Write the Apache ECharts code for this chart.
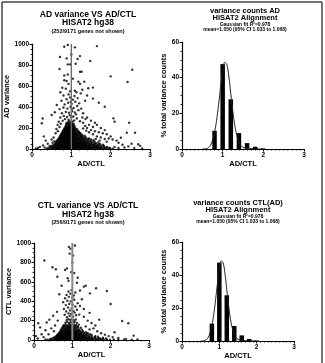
<!DOCTYPE html>
<html><head><meta charset="utf-8">
<script src="https://cdn.jsdelivr.net/npm/echarts@6/dist/echarts.min.js"></script>
<style>html,body{margin:0;padding:0;background:#fff}#c{width:325px;height:363px}</style>
</head><body><div id="c"></div>
<script>
// ---------- DATA ----------
const adPoints = [
[0.38,6],[0.44,3],[0.49,8],[0.53,4],[0.57,9],[0.61,2],[0.64,7],[0.68,4],[0.71,10],[0.74,3],[0.78,6],[0.81,2],[0.85,8],[0.88,4],[0.92,11],[0.95,3],[0.99,7],[1.02,2],[1.06,9],[1.09,5],[1.13,3],[1.16,8],[1.2,4],[1.23,10],[1.27,3],[1.31,7],[1.35,2],[1.39,9],[1.43,4],[1.47,6],[1.51,2],[1.56,8],[1.6,4],[1.65,7],[1.7,3],[1.75,9],[1.81,4],[1.87,6],[1.93,3],[1.99,8],[2.06,4],
[0.42,13],[0.5,11],[0.55,14],[0.59,12],[0.62,15],[0.66,11],[0.69,14],[0.72,12],[0.76,16],[0.79,11],[0.83,14],[0.86,12],[0.9,16],[0.93,11],[0.97,14],[1.0,13],[1.04,16],[1.07,11],[1.11,14],[1.14,12],[1.18,16],[1.21,11],[1.25,14],[1.29,12],[1.33,16],[1.37,11],[1.41,14],[1.45,12],[1.49,15],[1.53,11],[1.58,14],[1.63,12],[1.68,15],[1.73,11],[1.78,14],[1.84,12],[1.9,15],[1.96,12],
[0.47,20],[0.52,24],[0.56,18],[0.6,26],[0.63,21],[0.67,17],[0.7,25],[0.73,19],[0.77,23],[0.8,28],[0.83,18],[0.87,24],[0.9,20],[0.94,27],[0.97,17],[1.01,22],[1.04,26],[1.08,19],[1.11,24],[1.15,21],[1.18,27],[1.22,18],[1.26,23],[1.3,26],[1.34,19],[1.38,24],[1.42,20],[1.46,27],[1.5,18],[1.55,22],[1.6,25],[1.65,19],[1.7,23],[1.76,18],[1.83,24],[1.9,20],
[0.51,31],[0.58,33],[0.61,30],[0.65,34],[0.68,31],[0.72,33],[0.75,30],[0.78,34],[0.82,32],[0.85,30],[0.88,34],[0.92,31],[0.95,33],[0.98,30],[1.02,34],[1.05,31],[1.09,33],[1.12,30],[1.16,34],[1.19,31],[1.23,33],[1.27,30],[1.31,34],[1.35,31],[1.39,33],[1.44,30],[1.48,34],[1.53,31],[1.58,33],[1.63,30],[1.69,34],[1.75,31],[1.82,33],
[0.55,38],[0.59,43],[0.63,36],[0.66,44],[0.7,39],[0.73,46],[0.76,37],[0.8,42],[0.83,47],[0.86,38],[0.9,44],[0.93,36],[0.96,45],[1.0,40],[1.03,47],[1.07,37],[1.1,43],[1.14,39],[1.17,46],[1.21,38],[1.24,44],[1.28,40],[1.32,46],[1.36,37],[1.4,43],[1.45,39],[1.5,45],[1.55,37],[1.6,42],[1.66,38],[1.72,44],[1.8,40],
[0.58,51],[0.62,53],[0.65,50],[0.69,54],[0.72,51],[0.75,53],[0.79,50],[0.82,54],[0.85,51],[0.89,53],[0.92,50],[0.95,54],[0.99,51],[1.02,53],[1.06,50],[1.09,54],[1.13,51],[1.16,53],[1.2,50],[1.23,54],[1.27,51],[1.31,53],[1.35,50],[1.4,54],[1.45,51],[1.5,53],[1.56,50],[1.63,53],[1.72,51],
[0.6,58],[0.64,63],[0.68,56],[0.71,65],[0.75,59],[0.78,66],[0.82,57],[0.85,62],[0.88,68],[0.92,58],[0.95,64],[0.98,56],[1.02,66],[1.05,60],[1.09,67],[1.12,57],[1.16,63],[1.2,59],[1.24,66],[1.28,58],[1.32,64],[1.37,60],[1.42,66],[1.47,57],[1.53,63],[1.6,59],[1.68,62],
[0.62,71],[0.66,73],[0.7,70],[0.73,74],[0.77,71],[0.8,73],[0.84,70],[0.87,74],[0.9,71],[0.94,73],[0.97,70],[1.0,74],[1.04,71],[1.07,73],[1.11,70],[1.15,74],[1.19,71],[1.23,73],[1.27,70],[1.32,74],[1.37,71],[1.43,73],[1.5,70],[1.58,73],
[0.64,79],[0.68,84],[0.72,77],[0.75,86],[0.79,80],[0.82,88],[0.85,76],[0.89,83],[0.92,89],[0.95,78],[0.99,85],[1.02,80],[1.06,88],[1.09,77],[1.13,84],[1.17,81],[1.21,87],[1.25,78],[1.3,84],[1.35,80],[1.41,86],[1.48,79],[1.56,83],
[0.66,91],[0.7,93],[0.74,90],[0.77,94],[0.81,91],[0.84,93],[0.88,90],[0.91,94],[0.94,91],[0.98,93],[1.01,90],[1.05,94],[1.08,91],[1.12,93],[1.16,90],[1.2,94],[1.25,91],[1.3,93],[1.36,90],[1.43,93],[1.5,91],
[0.68,98],[0.72,104],[0.76,97],[0.79,106],[0.83,100],[0.86,108],[0.89,96],[0.93,103],[0.96,109],[0.99,98],[1.03,105],[1.06,99],[1.1,107],[1.14,97],[1.18,104],[1.22,100],[1.27,106],[1.32,98],[1.38,103],[1.45,100],
[0.7,111],[0.74,113],[0.77,110],[0.81,114],[0.84,111],[0.88,113],[0.91,110],[0.94,114],[0.98,111],[1.01,113],[1.05,110],[1.08,114],[1.12,111],[1.16,113],[1.2,110],[1.25,114],[1.3,111],[1.36,113],
[0.71,119],[0.75,124],[0.79,117],[0.82,126],[0.86,120],[0.89,128],[0.92,116],[0.96,123],[0.99,129],[1.02,118],[1.06,125],[1.1,120],[1.14,127],[1.18,118],[1.23,124],[1.28,120],[1.34,126],
[0.73,131],[0.77,133],[0.8,130],[0.84,134],[0.87,131],[0.91,133],[0.94,130],[0.97,134],[1.01,131],[1.04,133],[1.08,130],[1.12,134],[1.17,131],[1.22,133],[1.28,130],
[0.74,139],[0.78,145],[0.82,137],[0.85,146],[0.89,140],[0.92,148],[0.96,136],[0.99,143],[1.03,149],[1.07,138],[1.11,145],[1.15,140],[1.2,147],[1.26,139],
[0.76,151],[0.8,153],[0.83,150],[0.87,154],[0.9,151],[0.94,153],[0.97,150],[1.01,154],[1.04,151],[1.08,153],[1.12,150],[1.17,154],[1.23,151],
[0.77,159],[0.81,165],[0.85,157],[0.88,166],[0.92,160],[0.95,168],[0.99,156],[1.02,163],[1.06,169],[1.1,158],[1.15,165],[1.2,160],
[0.79,171],[0.83,173],[0.86,170],[0.9,174],[0.93,171],[0.97,173],[1.0,170],[1.04,174],[1.08,171],[1.12,173],[1.18,170],
[0.8,179],[0.84,186],[0.88,177],[0.91,188],[0.95,180],[0.98,189],[1.02,176],[1.06,184],[1.1,179],[1.15,187],
[0.82,191],[0.86,193],[0.89,190],[0.93,194],[0.96,191],[1.0,193],[1.03,190],[1.07,194],[1.12,191],
[0.83,199],[0.87,207],[0.91,197],[0.94,208],[0.98,200],[1.01,209],[1.05,196],[1.09,204],
[0.85,211],[0.89,214],[0.93,212],[0.96,215],[1.0,211],[1.03,214],[1.07,212],
[0.86,222],[0.9,230],[0.94,219],[0.97,228],[1.01,224],[1.04,231],[1.08,220],
[0.87,236],[0.91,240],[0.95,237],[0.99,241],[1.02,236],[1.06,239],
[0.88,248],[0.92,256],[0.96,245],[1.0,253],[1.03,259],
[0.78,270],[0.84,285],[0.93,278],[1.07,272],[1.14,290],[1.22,265],[0.72,300],[0.81,315],[0.89,305],[0.96,322],[1.05,310],[1.12,330],[1.28,300],[1.36,285],[0.76,340],[0.86,352],[0.94,345],[1.02,360],[1.09,348],[1.18,370],[1.3,340],[0.7,380],[0.8,395],[0.9,385],[0.98,402],[1.06,390],[1.15,410],[1.25,385],[0.83,425],[0.92,440],[1.01,430],[1.1,450],[1.2,435],[0.75,460],[0.88,475],[0.97,490],[1.04,470],[1.16,485],[1.35,460],[0.8,510],[0.93,520],[1.08,505],[1.24,530],[0.72,540],[1.4,510],[1.55,480],[1.7,440],[1.85,403],[0.63,419],[0.58,350],[0.5,324],[0.95,265],[1.0,300],[1.01,380],[0.99,450],
[1.4,300],[1.5,270],[1.6,250],[1.45,230],[1.55,210],[1.65,230],[1.75,200],[1.85,180],[1.3,250],[1.35,220],[1.4,200],[1.5,180],[1.6,170],[1.7,160],[1.8,150],[1.9,140],[2.0,120],[2.07,292],[2.1,260],[2.47,250],[2.41,155],[2.62,155],[2.26,107],[2.53,50],[2.7,45],[2.75,30],[2.3,40],[2.45,25],[2.15,80],[2.2,60],[2.05,90],[1.95,100],[1.9,70],[2.35,15],[2.6,10],[2.8,5],[2.1,20],[2.2,10],[1.45,160],[1.55,140],[1.65,120],[1.75,110],[1.85,95],[1.62,95],[1.72,80],[1.38,175],[1.3,195],
[0.25,245],[0.27,290],[0.3,120],[0.35,80],[0.4,50],[0.45,30],[0.2,20],[0.15,10],[0.28,35],[0.5,90],[0.55,110],[0.6,150],[0.62,190],[0.65,230],[0.68,260],[0.52,60],[0.57,75],[0.66,170],[0.7,210],[0.73,240],[0.1,5],[0.32,15],
[0.82,974],[0.91,990],[1.09,968],[1.65,980],[0.71,876],[0.88,863],[1.0,900],[1.22,885],[1.16,857],[1.48,838],[0.7,762],[0.91,806],[0.97,806],[1.11,812],[1.22,736],[1.26,736],[2.55,755],[2.0,692],[2.43,638],[0.82,700],[0.91,710],[0.88,648],[0.82,655],[0.93,620],[1.04,670],[1.18,641],[1.33,641],[1.22,620],[1.43,578],[1.55,585],[0.77,584],[0.86,575],[0.97,550],[1.09,555],[1.28,565],[1.13,540]
];
const ctlPoints = [
[0.3,5],[0.36,2],[0.42,7],[0.47,3],[0.52,8],[0.56,2],[0.6,6],[0.63,3],[0.67,9],[0.7,4],[0.73,7],[0.77,2],[0.8,8],[0.83,4],[0.87,10],[0.9,3],[0.94,6],[0.97,2],[1.0,8],[1.04,4],[1.07,9],[1.11,3],[1.14,7],[1.18,2],[1.22,8],[1.26,4],[1.3,6],[1.35,3],[1.4,9],[1.45,4],[1.5,7],[1.56,3],[1.62,6],[1.68,2],[1.75,8],[1.82,4],[1.9,6],[1.98,3],[2.08,5],[2.2,3],[2.35,6],[2.55,3],[2.7,5],
[0.45,13],[0.53,11],[0.58,14],[0.62,12],[0.65,15],[0.69,11],[0.72,14],[0.75,12],[0.79,16],[0.82,11],[0.85,14],[0.89,12],[0.92,16],[0.96,11],[0.99,14],[1.02,12],[1.06,16],[1.09,11],[1.13,14],[1.16,12],[1.2,16],[1.24,11],[1.28,14],[1.33,12],[1.38,16],[1.43,11],[1.48,14],[1.54,12],[1.6,15],[1.66,11],[1.73,14],[1.8,12],[1.88,15],
[0.5,22],[0.55,18],[0.59,26],[0.63,20],[0.66,25],[0.7,17],[0.73,23],[0.77,28],[0.8,19],[0.84,24],[0.87,20],[0.91,27],[0.94,18],[0.98,23],[1.01,26],[1.05,19],[1.08,24],[1.12,21],[1.16,27],[1.2,18],[1.24,23],[1.29,20],[1.34,26],[1.39,19],[1.45,24],[1.52,20],[1.6,25],[1.7,19],[1.8,23],
[0.54,31],[0.6,33],[0.64,30],[0.68,34],[0.71,31],[0.75,33],[0.78,30],[0.82,34],[0.85,31],[0.89,33],[0.92,30],[0.96,34],[0.99,31],[1.03,33],[1.06,30],[1.1,34],[1.14,31],[1.18,33],[1.22,30],[1.27,34],[1.32,31],[1.37,33],[1.43,30],[1.5,34],[1.58,31],[1.67,33],
[0.58,40],[0.62,45],[0.66,38],[0.7,47],[0.73,41],[0.77,36],[0.8,44],[0.84,39],[0.87,48],[0.9,37],[0.94,43],[0.97,40],[1.01,46],[1.04,38],[1.08,44],[1.12,41],[1.16,47],[1.2,39],[1.25,44],[1.3,40],[1.36,46],[1.43,38],[1.5,43],[1.6,40],
[0.6,51],[0.64,53],[0.68,50],[0.72,54],[0.75,51],[0.79,53],[0.82,50],[0.86,54],[0.89,51],[0.92,53],[0.96,50],[0.99,54],[1.03,51],[1.06,53],[1.1,50],[1.14,54],[1.18,51],[1.23,53],[1.28,50],[1.34,54],[1.41,51],[1.5,53],
[0.63,60],[0.67,66],[0.71,58],[0.75,65],[0.78,61],[0.82,68],[0.85,57],[0.89,63],[0.92,59],[0.96,67],[0.99,62],[1.03,57],[1.06,65],[1.1,60],[1.14,66],[1.19,58],[1.24,64],[1.3,61],[1.38,66],[1.46,59],
[0.65,71],[0.69,73],[0.73,70],[0.77,74],[0.8,71],[0.84,73],[0.87,70],[0.91,74],[0.94,71],[0.98,73],[1.01,70],[1.05,74],[1.09,71],[1.13,73],[1.18,70],[1.24,74],[1.31,71],[1.4,73],
[0.67,80],[0.71,86],[0.75,78],[0.79,85],[0.82,81],[0.86,88],[0.89,77],[0.93,84],[0.96,80],[1.0,87],[1.03,79],[1.07,85],[1.11,82],[1.16,88],[1.21,78],[1.27,84],[1.35,80],
[0.69,91],[0.73,94],[0.77,92],[0.81,95],[0.84,91],[0.88,94],[0.91,92],[0.95,95],[0.98,91],[1.02,94],[1.05,92],[1.09,95],[1.14,91],[1.2,94],[1.28,92],
[0.7,102],[0.75,108],[0.79,99],[0.83,106],[0.86,101],[0.9,110],[0.93,98],[0.97,105],[1.0,100],[1.04,108],[1.08,97],[1.13,104],[1.18,101],[1.25,107],
[0.72,116],[0.77,119],[0.81,115],[0.85,120],[0.89,117],[0.93,119],[0.97,115],[1.01,120],[1.05,117],[1.1,119],[1.16,116],
[0.74,128],[0.79,134],[0.84,126],[0.88,133],[0.92,129],[0.96,136],[1.0,125],[1.04,132],[1.09,128],[1.15,134],[1.22,127],
[0.76,141],[0.81,144],[0.86,140],[0.9,145],[0.94,142],[0.98,144],[1.02,140],[1.07,145],[1.13,142],
[0.78,152],[0.83,158],[0.88,150],[0.92,160],[0.96,154],[1.0,149],[1.05,157],[1.1,152],[1.17,159],
[0.82,178],[0.87,185],[0.92,176],[0.96,183],[1.01,179],[1.06,186],[1.12,177],
[0.85,205],[0.9,214],[0.95,207],[0.99,216],[1.04,204],[1.09,211],
[0.86,235],[0.93,248],[1.02,240],[1.1,255],[0.8,260],[0.9,275],[0.97,268],[1.06,282],[1.18,262],[0.84,295],[0.94,305],[1.03,298],[1.12,312],[0.78,320],[0.89,335],[0.99,328],[1.08,345],[0.83,360],[0.92,372],[1.01,365],[1.14,380],[0.76,390],[0.87,405],[0.96,398],[1.05,415],[0.81,430],[0.91,445],[1.0,438],[0.85,465],[0.95,478],[1.04,460],[0.66,471],[0.9,500],[0.98,515],[1.08,490],[0.61,652],[0.81,722],[0.86,738],[0.88,636],[1.14,642],[1.62,533],[1.9,505],[2.0,371],[1.46,481],[1.3,550],[1.35,560],[2.3,196],[2.46,172],[0.11,172],[0.16,130],[0.33,180],[0.62,200],[0.27,820],[0.48,750],[0.57,730],[0.91,960],[0.95,940],[1.07,975],[0.93,890],[1.02,870],[1.0,800],[0.97,700],[1.05,690],[0.9,610],[1.12,590],[1.2,510],[0.72,560],[0.6,290],[0.5,250],[0.4,210],[0.45,120],[0.3,100],[0.2,60],[0.25,30],[0.1,15],[0.05,40],[0.38,60],[0.55,150],[0.52,90],[1.3,240],[1.4,200],[1.5,175],[1.6,150],[1.7,210],[1.55,120],[1.65,90],[1.75,70],[1.85,55],[1.95,40],[2.05,30],[2.1,80],[2.2,20],[2.4,10],[2.6,45],[1.3,320],[1.45,280],[1.25,420],[1.2,350],[1.35,140],[1.45,110]
];
const binCenters = [0.8, 1.0, 1.2, 1.4, 1.6, 1.8, 2.0];
const adHistPct  = [10.2, 47.6, 27.9, 8.9, 3.3, 1.3, 0.3];
const ctlHistPct = [10.5, 47.5, 27.7, 9.1, 3.4, 1.2, 0.3];
const fitX    = [0.5, 0.55, 0.6, 0.65, 0.7, 0.75, 0.8, 0.85, 0.9, 0.95, 1.0, 1.05, 1.1, 1.15, 1.2, 1.25, 1.3, 1.35, 1.4, 1.45, 1.5, 1.6, 1.8, 2.0];
const adFitY  = [0, 0.05, 0.2, 0.8, 2, 5, 9.5, 16, 25, 35, 43.5, 48.5, 47.5, 41, 31, 21, 13, 7.5, 4, 2, 1, 0.4, 0.1, 0];
const ctlFitY = [0, 0.05, 0.2, 0.8, 2, 5, 9.5, 16, 25, 35, 43.5, 48.5, 47.5, 41, 31, 21, 13, 7.5, 4, 2, 1, 0.4, 0.1, 0];
const refLine = [[1, 0], [1, 1000]];

// ---------- CHART ----------
const FONT = '"Liberation Sans", Arial, sans-serif';
const zip = (xs, ys) => xs.map((x, i) => [x, ys[i]]);
function xAx(gi, minorSplit) {
  return {
    type: 'value', gridIndex: gi, min: 0, max: 3, interval: 1,
    name: 'AD/CTL', nameLocation: 'middle', nameGap: gi >= 2 ? 10 : 9,
    nameTextStyle: { fontFamily: FONT, fontWeight: 'bold', fontSize: 7.5, color: '#000' },
    axisLine: { lineStyle: { color: '#000', width: 1.2 } },
    axisTick: { show: true, length: 2.5, lineStyle: { color: '#000', width: 1 } },
    minorTick: { show: true, splitNumber: minorSplit, length: 1.5, lineStyle: { color: '#000', width: 0.8 } },
    splitLine: { show: false },
    axisLabel: { fontFamily: FONT, fontWeight: 'bold', fontSize: 6.5, color: '#000', margin: 3, formatter: v => String(v) }
  };
}
function yAx(gi, name, max, interval, gap) {
  return {
    type: 'value', gridIndex: gi, min: 0, max: max, interval: interval,
    name: name, nameLocation: 'middle', nameGap: gap, nameRotate: 90,
    nameTextStyle: { fontFamily: FONT, fontWeight: 'bold', fontSize: 7.5, color: '#000' },
    axisLine: { show: true, lineStyle: { color: '#000', width: 1.2 } },
    axisTick: { show: true, length: 2.5, lineStyle: { color: '#000', width: 1 } },
    minorTick: { show: true, splitNumber: 4, length: 1.5, lineStyle: { color: '#000', width: 0.8 } },
    splitLine: { show: false },
    axisLabel: { fontFamily: FONT, fontWeight: 'bold', fontSize: 6.5, color: '#000', margin: 3, formatter: v => String(v) }
  };
}
function txt(x, y, s, size, bold) {
  return { type: 'text', x: x, y: y, silent: true,
    style: { text: s, fill: '#000', font: (bold ? 'bold ' : '') + size + 'px ' + FONT, textAlign: 'center', textVerticalAlign: 'middle' } };
}
const chart = echarts.init(document.getElementById('c'), null, { renderer: 'canvas' });
chart.setOption({
  animation: false,
  backgroundColor: '#fff',
  grid: [
    { left: 32, top: 44, width: 118, height: 105 },
    { left: 182, top: 42, width: 122, height: 107 },
    { left: 34, top: 243, width: 115, height: 97 },
    { left: 182, top: 242, width: 112, height: 99 }
  ],
  xAxis: [xAx(0, 5), xAx(1, 10), xAx(2, 5), xAx(3, 10)],
  yAxis: [
    yAx(0, 'AD variance', 1000, 200, 16),
    yAx(1, '% total variance counts', 60, 20, 10),
    yAx(2, 'CTL variance', 1000, 200, 17),
    yAx(3, '% total variance counts', 60, 20, 10)
  ],
  series: [
    { type: 'scatter', xAxisIndex: 0, yAxisIndex: 0, data: adPoints, symbolSize: 2.4, itemStyle: { color: '#000' }, silent: true, z: 2 },
    { type: 'line', xAxisIndex: 0, yAxisIndex: 0, data: refLine, symbol: 'none', lineStyle: { color: '#6e6e6e', width: 1.4 }, silent: true, z: 3 },
    { type: 'bar', xAxisIndex: 1, yAxisIndex: 1, data: zip(binCenters, adHistPct), barWidth: 4.5, itemStyle: { color: '#000' }, silent: true },
    { type: 'line', xAxisIndex: 1, yAxisIndex: 1, data: zip(fitX, adFitY), smooth: 0.4, symbol: 'none', lineStyle: { color: '#222', width: 1 }, silent: true, z: 3 },
    { type: 'scatter', xAxisIndex: 2, yAxisIndex: 2, data: ctlPoints, symbolSize: 2.4, itemStyle: { color: '#000' }, silent: true, z: 2 },
    { type: 'line', xAxisIndex: 2, yAxisIndex: 2, data: refLine, symbol: 'none', lineStyle: { color: '#888', width: 2 }, silent: true, z: 3 },
    { type: 'bar', xAxisIndex: 3, yAxisIndex: 3, data: zip(binCenters, ctlHistPct), barWidth: 4.5, itemStyle: { color: '#000' }, silent: true },
    { type: 'line', xAxisIndex: 3, yAxisIndex: 3, data: zip(fitX, ctlFitY), smooth: 0.4, symbol: 'none', lineStyle: { color: '#222', width: 1 }, silent: true, z: 3 }
  ],
  graphic: [
    { type: 'line', shape: { x1: 2, y1: 2, x2: 322, y2: 2 }, style: { stroke: '#444', lineWidth: 1.5 } },
    { type: 'line', shape: { x1: 2, y1: 2, x2: 2, y2: 363 }, style: { stroke: '#444', lineWidth: 1.5 } },
    { type: 'line', shape: { x1: 322, y1: 2, x2: 322, y2: 363 }, style: { stroke: '#444', lineWidth: 1.5 } },
    txt(88, 15, 'AD variance VS AD/CTL', 8.5, true),
    txt(88, 23, 'HISAT2 hg38', 8.5, true),
    txt(88, 31.5, '(252/9171 genes not shown)', 5.5, true),
    txt(245, 10.5, 'variance counts AD', 7.5, true),
    txt(245, 18, 'HISAT2 Alignment', 7.5, true),
    txt(245, 24.8, 'Gaussian fit R\u00B2=0.978', 5, true),
    txt(245, 30, 'mean=1.050 (95% CI 1.033 to 1.068)', 5, true),
    txt(88, 206, 'CTL variance VS AD/CTL', 8.5, true),
    txt(88, 215, 'HISAT2 hg38', 8.5, true),
    txt(88, 222.5, '(256/9171 genes not shown)', 5.5, true),
    txt(238, 202.5, 'variance counts CTL(AD)', 7.5, true),
    txt(238, 210, 'HISAT2 Alignment', 7.5, true),
    txt(238, 216.5, 'Gaussian fit R\u00B2=0.978', 5, true),
    txt(238, 221.7, 'mean=1.050 (95% CI 1.033 to 1.068)', 5, true)
  ]
});
</script>
</body></html>
